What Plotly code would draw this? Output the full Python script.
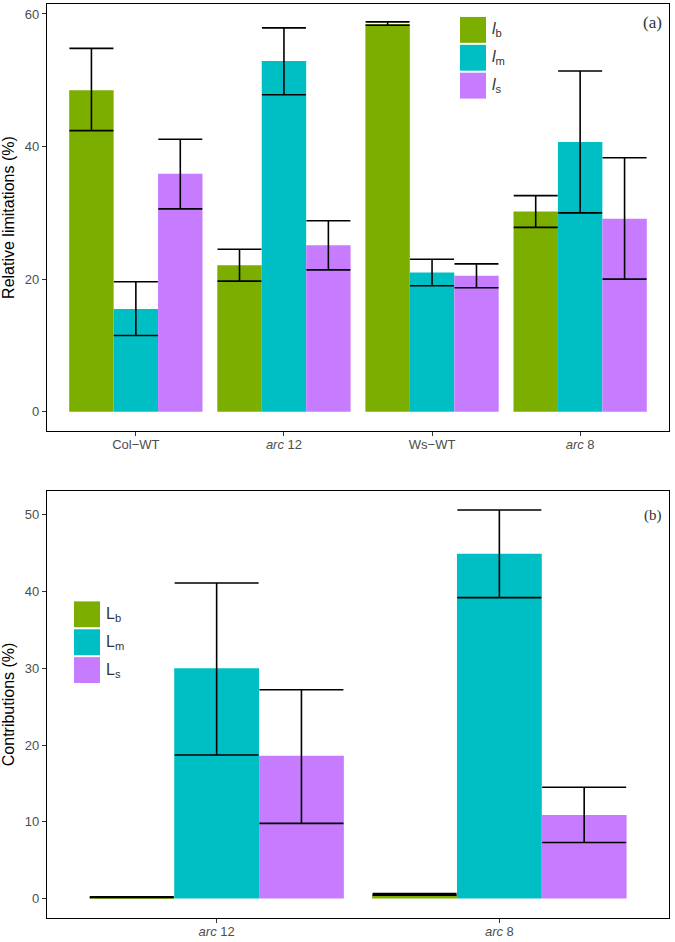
import plotly.graph_objects as go
from plotly.subplots import make_subplots

# ---------------- data ----------------
cats_a = ["Col−WT", "<i>arc</i> 12", "Ws−WT", "<i>arc</i> 8"]
series_a = ["lb", "lm", "ls"]
labels_a = ["<i>l</i><sub>b</sub>", "<i>l</i><sub>m</sub>", "<i>l</i><sub>s</sub>"]
vals_a = {
    "lb": [48.5, 22.1, 58.5, 30.2],
    "lm": [15.5, 52.9, 21.0, 40.7],
    "ls": [35.9, 25.1, 20.5, 29.1],
}
upper_a = {
    "lb": [54.8, 24.5, 58.8, 32.6],
    "lm": [19.6, 57.9, 23.0, 51.4],
    "ls": [41.1, 28.8, 22.3, 38.3],
}
lower_a = {
    "lb": [42.4, 19.7, 58.3, 27.8],
    "lm": [11.5, 47.8, 19.0, 30.0],
    "ls": [30.6, 21.4, 18.7, 20.0],
}

cats_b = ["<i>arc</i> 12", "<i>arc</i> 8"]
series_b = ["Lb", "Lm", "Ls"]
labels_b = ["L<sub>b</sub>", "L<sub>m</sub>", "L<sub>s</sub>"]
vals_b = {
    "Lb": [0.18, 0.55],
    "Lm": [30.0, 44.9],
    "Ls": [18.6, 10.9],
}
upper_b = {
    "Lb": [0.22, 0.65],
    "Lm": [41.1, 50.6],
    "Ls": [27.2, 14.5],
}
lower_b = {
    "Lb": [0.14, 0.45],
    "Lm": [18.7, 39.2],
    "Ls": [9.8, 7.3],
}

colors = ["#7CAE00", "#00BFC4", "#C77CFF"]

# ---------------- figure ----------------
W, H = 675, 942
mL, mR, mT, mB = 47, 6, 3, 21
plot_w = W - mL - mR
plot_h = H - mT - mB

fig = make_subplots(rows=2, cols=1, vertical_spacing=60 / plot_h)

for i, s in enumerate(series_a):
    v = vals_a[s]
    fig.add_trace(go.Bar(
        x=cats_a, y=v, name=s, marker_color=colors[i], marker_line_width=0,
        showlegend=False,
        error_y=dict(type="data", symmetric=False,
                     array=[u - a for u, a in zip(upper_a[s], v)],
                     arrayminus=[a - l for a, l in zip(v, lower_a[s])],
                     color="black", thickness=1.6, width=22),
    ), row=1, col=1)

for i, s in enumerate(series_b):
    v = vals_b[s]
    fig.add_trace(go.Bar(
        x=cats_b, y=v, name=s, marker_color=colors[i], marker_line_width=0,
        showlegend=False,
        error_y=dict(type="data", symmetric=False,
                     array=[u - a for u, a in zip(upper_b[s], v)],
                     arrayminus=[a - l for a, l in zip(v, lower_b[s])],
                     color="black", thickness=1.6, width=42),
    ), row=2, col=1)

axis_common = dict(
    showline=True, linecolor="black", linewidth=1.3, mirror=True,
    ticks="outside", ticklen=4, tickcolor="#333333", tickwidth=1,
    tickfont=dict(family="Liberation Sans, Arial", size=13, color="#4D4D4D"),
    showgrid=False, zeroline=False,
)

fig.update_xaxes(**axis_common)
fig.update_yaxes(**axis_common)
fig.update_xaxes(range=[-0.6, 3.6], ticklabelstandoff=-3, row=1, col=1)
fig.update_xaxes(range=[-0.6, 1.6], ticklabelstandoff=-3, row=2, col=1)
fig.update_yaxes(range=[-2.93, 61.5], tickvals=[0, 20, 40, 60], row=1, col=1,
                 title=dict(text="Relative limitations (%)", standoff=6,
                            font=dict(family="Liberation Sans, Arial", size=16, color="black")))
fig.update_yaxes(range=[-2.53, 53.1], tickvals=[0, 10, 20, 30, 40, 50], row=2, col=1,
                 title=dict(text="Contributions (%)", standoff=6,
                            font=dict(family="Liberation Sans, Arial", size=16, color="black")))

fig.update_layout(
    width=W, height=H, barmode="group", bargap=0.1, bargroupgap=0,
    plot_bgcolor="white", paper_bgcolor="white",
    margin=dict(l=mL, r=mR, t=mT, b=mB),
    showlegend=False,
)

# ---------------- custom legends ----------------
def px_x(p):
    return (p - mL) / plot_w

def px_y(p):
    return (H - mB - p) / plot_h

def add_legend(x0, y0, key, gap, labels):
    for i, lab in enumerate(labels):
        top = y0 + i * (key + gap)
        fig.add_shape(type="rect", xref="paper", yref="paper",
                      x0=px_x(x0), x1=px_x(x0 + key),
                      y0=px_y(top + key), y1=px_y(top),
                      fillcolor=colors[i], line_width=0)
        fig.add_annotation(xref="paper", yref="paper",
                           x=px_x(x0 + key + 4), y=px_y(top + key / 2),
                           text=lab, showarrow=False, xanchor="left", yanchor="middle",
                           font=dict(family="Liberation Sans, Arial", size=16, color="#333333"))

add_legend(460, 16, 26, 2, labels_a)
add_legend(74, 603, 26, 2, labels_b)

fig.add_annotation(xref="paper", yref="paper", x=px_x(664), y=px_y(22), text="(a)",
                   showarrow=False, xanchor="right", yanchor="middle",
                   font=dict(family="Liberation Serif, Times New Roman", size=17, color="#333333"))
fig.add_annotation(xref="paper", yref="paper", x=px_x(664), y=px_y(517), text="(b)",
                   showarrow=False, xanchor="right", yanchor="middle",
                   font=dict(family="Liberation Serif, Times New Roman", size=15, color="#333333"))

fig.write_html("out.html", config={"displayModeBar": False},
               post_script="document.body.style.margin='0';document.body.style.overflow='hidden';")
